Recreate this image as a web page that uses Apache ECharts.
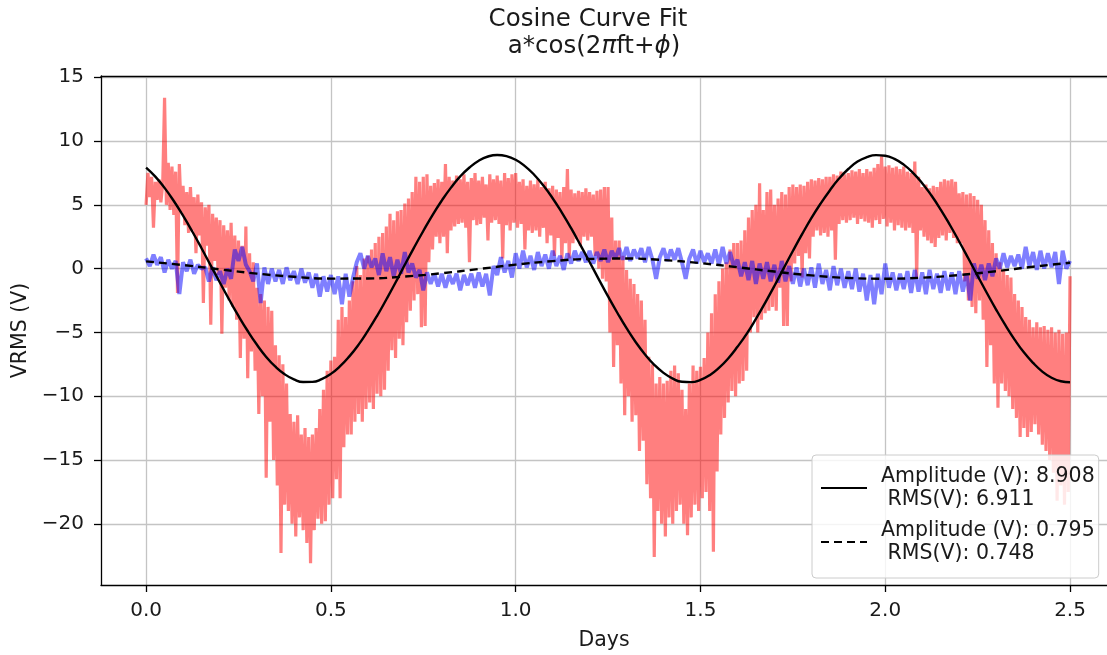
<!DOCTYPE html>
<html><head><meta charset="utf-8">
<script src="https://cdn.jsdelivr.net/npm/echarts@6/dist/echarts.min.js"></script>
<style>html,body{margin:0;padding:0;background:#fff}#c{width:1107px;height:655px}</style>
</head><body><div id="c"></div>
<script>
// ---- data ----
const titleText = 'Cosine Curve Fit';
const xLabel = 'Days';
const yLabel = 'VRMS (V)';
const xTicks = [0, 0.5, 1.0, 1.5, 2.0, 2.5];
const yTicks = [-20, -15, -10, -5, 0, 5, 10, 15];
const legendSolid = 'Amplitude (V): 8.908\n RMS(V): 6.911';
const legendDashed = 'Amplitude (V): 0.795\n RMS(V): 0.748';

// measured red signal, one sample every 0.005 day from day 0
const redStep = 0.005;
const redVals = [
 5.0, 7.5, 5.6, 7.2, 3.2, 6.8, 5.4, 7.0, 5.2, 6.6,
 13.4, 5.0, 8.3, 4.6, 8.0, 4.2, 7.6, -1.9, 8.2, 4.4,
 6.5, 3.4, 6.0, 2.8, 6.4, 3.0, 5.6, 1.2, 5.8, 2.6,
 5.2, -2.7, 4.8, 1.8, 5.0, -4.4, 4.3, 0.6, 4.0, -0.5,
 3.8, -5.1, 3.4, -1.5, 3.0, -2.5, 3.6, -3.0, 2.6, -4.0,
 2.2, -7.0, 1.8, -5.5, 3.3, -8.6, 1.2, -6.5, 0.5, -8.0,
 -1.5, -11.4, -2.0, -10.0, -2.5, -16.4, -3.0, -12.0, -3.3, -15.0,
 -6.0, -17.0, -6.8, -22.3, -7.5, -18.5, -9.0, -19.0, -11.4, -20.0,
 -12.0, -21.0, -11.5, -19.5, -13.0, -20.5, -12.5, -21.5, -13.2, -23.1,
 -13.0, -20.5, -12.5, -19.6, -11.0, -20.0, -9.5, -19.8, -8.0, -18.5,
 -7.2, -18.0, -6.9, -16.5, -4.0, -18.0, -3.0, -14.0, -3.8, -13.0,
 -2.5, -13.0, -1.0, -12.0, 0.2, -11.4, -0.5, -12.0, 0.8, -11.0,
 1.0, -10.5, 1.5, -11.0, 2.0, -9.8, 2.5, -10.0, 2.8, -9.5,
 3.3, -8.0, 4.3, -6.4, 3.8, -7.0, 4.5, -5.5, 4.6, -6.0,
 5.1, -4.2, 5.5, -3.3, 6.0, -2.5, 7.2, -2.0, 6.8, -4.6,
 7.2, -4.5, 7.4, 0.5, 6.5, 1.5, 6.7, 2.5, 7.0, 2.0,
 6.8, 2.5, 8.2, 1.2, 7.2, 3.0, 6.9, 3.3, 7.3, 3.5,
 7.0, 3.6, 7.4, 3.2, 6.8, 0.5, 7.1, 3.8, 7.5, 3.4,
 6.9, 3.5, 7.2, 4.0, 6.6, 2.2, 7.4, 3.6, 7.0, 3.8,
 7.3, 3.5, 6.9, 0.8, 7.5, 3.4, 7.1, 3.0, 7.4, 3.6,
 7.5, 3.2, 6.8, 3.5, 7.0, 1.5, 6.5, 3.0, 6.9, 2.8,
 6.6, 3.0, 7.0, 2.5, 6.4, 3.2, 6.8, 2.0, 6.3, 2.6,
 6.5, 1.0, 6.2, 2.4, 6.0, 0.6, 6.4, 2.0, 7.8, 0.8,
 6.2, 2.0, 5.9, 2.3, 6.1, 1.8, 6.0, 2.5, 6.3, 2.2,
 6.0, 2.5, 5.8, 1.0, 6.1, 0.0, 6.2, -0.8, 6.4, -1.0,
 6.4, -5.0, 4.0, -7.7, 2.2, -6.0, 2.2, -9.0, 1.0, -11.5,
 -0.1, -10.0, -0.8, -12.0, -1.2, -11.5, -2.0, -14.3, -2.5, -13.5,
 -4.0, -16.9, -6.9, -18.0, -7.5, -22.6, -9.0, -19.0, -8.5, -20.0,
 -9.0, -21.0, -8.8, -19.5, -8.0, -20.0, -7.6, -19.0, -8.2, -18.5,
 -9.5, -20.0, -11.0, -20.9, -9.0, -19.5, -7.6, -18.5, -8.0, -19.0,
 -7.7, -18.0, -7.0, -17.5, -5.0, -19.0, -3.5, -22.2, -2.0, -15.9,
 -1.0, -13.0, 0.0, -11.7, 0.5, -10.5, 1.5, -9.6, 2.0, -10.0,
 2.0, -9.0, 2.2, -8.8, 3.0, -8.0, 4.0, -5.0, 4.6, -3.8,
 5.0, -5.0, 6.7, -4.0, 4.6, -3.5, 6.0, -3.3, 6.2, -3.0,
 5.0, -3.3, 5.5, -1.5, 6.0, -4.5, 5.8, -4.5, 6.4, -1.0,
 6.6, 0.4, 6.4, 1.0, 6.6, -0.7, 6.5, 1.2, 6.8, 0.8,
 7.0, 2.5, 6.9, 3.0, 7.1, 2.6, 7.0, 2.8, 7.2, 2.5,
 7.2, 3.0, 7.4, 0.7, 7.3, 3.5, 7.6, 3.8, 7.4, 3.6,
 7.5, 3.8, 7.7, 4.0, 7.6, 3.5, 7.8, 3.9, 7.5, 3.7,
 7.8, 3.6, 7.6, 3.2, 7.9, 3.8, 8.2, 3.5, 8.8, 3.9,
 8.0, 3.3, 8.1, 3.6, 7.9, 3.0, 8.0, 3.4, 7.8, 3.2,
 8.0, 3.0, 7.6, 3.2, 7.5, 2.8, 8.4, -0.7, 7.2, 3.0,
 6.4, 2.5, 6.6, 2.2, 6.3, 2.0, 6.5, 1.7, 6.4, 2.4,
 6.8, 2.6, 7.0, 2.2, 6.9, 2.8, 7.0, 2.4, 6.8, 2.0,
 5.9, 2.0, 6.0, -1.0, 5.8, -2.5, 5.9, -3.0, 5.7, -3.5,
 5.4, -2.5, 5.0, -4.0, 3.8, -7.7, 3.0, -6.0, 2.0, -9.0,
 1.2, -10.9, 0.5, -9.0, -0.1, -9.6, -0.5, -10.0, -0.7, -11.0,
 -2.0, -11.7, -2.5, -13.2, -3.0, -12.5, -3.8, -13.2, -4.0, -12.8,
 -4.6, -12.2, -4.2, -13.0, -4.6, -13.8, -4.5, -14.3, -4.8, -15.0,
 -4.6, -16.0, -5.0, -18.2, -4.8, -17.0, -5.1, -18.5, -5.0, -17.5,
 -0.6
];

// measured blue signal, one sample every 0.01 day from day 0
const blueStep = 0.01;
const blueVals = [
 0.8, 0.2, 1.1, 0.3, 0.9, -0.3, 0.7, 0.0, 0.6, -2.0,
 0.5, -0.2, 0.7, -0.4, 0.3, 0.0, 0.1, -1.0, 0.1, -0.9,
 -0.2, -1.2, 0.0, -0.8, 1.5, 0.6, 1.7, 0.3, -0.2, -1.0,
 0.4, -2.7, 0.1, -1.2, 0.0, -1.0, -0.1, -1.2, 0.1, -0.9,
 -0.2, -1.2, 0.0, -1.1, -0.3, -1.5, -0.4, -2.2, -0.6, -1.8,
 -0.5, -2.0, -0.6, -2.8, -0.4, -2.2, -0.7, 0.5, 1.2, 0.0,
 1.0, 0.1, 0.8, -0.5, 1.2, -0.2, 0.9, -0.6, 0.7, -0.4,
 1.3, -0.3, 0.4, -0.7, -0.1, -1.7, -0.3, -1.2, -0.4, -1.4,
 -0.4, -1.5, -0.5, -1.2, -0.4, -1.7, -0.5, -1.3, -0.4, -1.5,
 -0.3, -1.4, -0.4, -2.1, 0.2, -0.5, 0.9, -0.3, 0.6, -0.7,
 1.2, 0.0, 1.4, 0.1, 1.0, -0.1, 1.3, 0.2, 1.1, 0.0,
 1.4, 0.2, 1.0, -0.1, 1.2, 0.4, 1.4, 0.6, 1.3, 0.5,
 1.4, 0.4, 1.3, 0.6, 1.5, 0.5, 1.4, 0.8, 1.6, 0.7,
 1.7, 0.6, 1.5, 0.8, 1.6, 0.5, 1.7, 0.7, -0.8, 0.9,
 1.6, 0.6, 1.5, 0.7, 1.6, 0.5, -0.8, 0.8, 1.5, 0.4,
 1.4, 0.5, 1.2, 0.4, 1.5, 0.3, 1.7, 0.4, 1.3, 0.2,
 0.7, -0.6, 0.5, -0.9, 0.6, -1.2, 0.4, -0.8, 0.5, -1.0,
 0.3, -1.1, 0.6, -1.0, 0.2, -1.2, 0.1, -1.4, 0.0, -1.3,
 0.1, -1.5, 0.4, -1.2, -0.1, -1.7, 0.2, -1.3, 0.0, -1.5,
 -0.2, -1.6, 0.0, -1.8, -0.4, -2.5, -0.5, -2.8, -0.4, -2.0,
 0.4, -1.5, -0.3, -1.7, -0.4, -1.6, -0.2, -1.9, -0.1, -1.8,
 -0.3, -2.0, -0.1, -1.6, -0.4, -1.9, -0.2, -1.7, -0.3, -2.0,
 -0.2, -1.8, -0.4, -2.5, 0.4, -0.8, 0.3, -0.9, 0.4, -0.6,
 0.8, 0.0, 1.2, 0.1, 1.0, 0.2, 1.1, 0.0, 1.7, 0.2,
 1.3, -0.1, 1.4, 0.0, 1.2, 0.1, 1.3, -1.2, 1.4, 0.0,
 0.6
];

// solid fit curve, read every 0.025 day
const fitSolidStep = 0.025;
const fitSolid = [
 7.92, 7.21, 6.33, 5.30, 4.15, 2.91, 1.60, 0.24, -1.11, -2.44,
 -3.71, -4.89, -5.97, -6.92, -7.69, -8.28, -8.68, -8.89, -8.88, -8.66,
 -8.25, -7.65, -6.88, -5.96, -4.88, -3.70, -2.42, -1.09, 0.30, 1.65,
 2.95, 4.20, 5.33, 6.35, 7.23, 7.93, 8.46, 8.79, 8.91, 8.82,
 8.53, 8.04, 7.36, 6.52, 5.52, 4.39, 3.17, 1.86, 0.52, -0.84,
 -2.18, -3.46, -4.67, -5.77, -6.73, -7.54, -8.17, -8.62, -8.87, -8.90,
 -8.72, -8.35, -7.78, -7.04, -6.13, -5.11, -3.94, -2.68, -1.36, 0.02,
 1.38, 2.70, 3.96, 5.10, 6.13, 7.06, 7.81, 8.39, 8.74, 8.90,
 8.85, 8.60, 8.15, 7.51, 6.70, 5.73, 4.63, 3.42, 2.13, 0.79,
 -0.57, -1.91, -3.21, -4.43, -5.56, -6.56, -7.39, -8.07, -8.55, -8.83,
 -8.91
];

// dashed fit curve, read every 0.1 day
const fitDashedStep = 0.1;
const fitDashed = [
 0.57, 0.28, -0.06, -0.39, -0.64, -0.78, -0.77, -0.62, -0.36, -0.03,
 0.31, 0.59, 0.76, 0.79, 0.67, 0.43, 0.11, -0.23, -0.53, -0.73,
 -0.79, -0.71, -0.50, -0.20, 0.15, 0.46
];

// ---- build chart ----
const toPairs = (vals, step) => vals.map((v, i) => [+(i * step).toFixed(4), v]);
const FONT = 'DejaVu Sans';
const TXT = '#1a1a1a';
const X_MIN = -0.122, X_MAX = 2.6, Y_MIN = -24.8, Y_MAX = 15.1;

const chart = echarts.init(document.getElementById('c'), null, {renderer: 'canvas'});
chart.setOption({
  animation: false,
  backgroundColor: '#fff',
  textStyle: {fontFamily: FONT, color: TXT},
  graphic: [
    {type: 'text', x: 588, y: 20, style: {text: titleText, font: '24.5px "DejaVu Sans"', fill: TXT, textAlign: 'center', textVerticalAlign: 'middle'}},
    {type: 'text', x: 594, y: 47, style: {text: 'a*cos(2{i|π}ft+{i|ϕ})', font: '24.5px "DejaVu Sans"', fill: TXT, textAlign: 'center', textVerticalAlign: 'middle',
      rich: {i: {fontStyle: 'italic', fontSize: 24.5, fontFamily: FONT, fill: TXT}}}}
  ],
  grid: {left: 101, top: 76, right: 0, bottom: 70, show: false, containLabel: false, outerBoundsMode: 'none'},
  legend: {
    orient: 'vertical', left: 812, top: 455,
    data: [legendSolid, legendDashed],
    itemWidth: 46, itemHeight: 14, itemGap: 8,
    padding: [10, 4, 13, 8],
    backgroundColor: 'rgba(255,255,255,0.82)', borderColor: '#cccccc', borderWidth: 1, borderRadius: 4,
    itemStyle: {opacity: 0},
    textStyle: {fontFamily: FONT, fontSize: 20.5, color: TXT, lineHeight: 23, padding: [0, 0, 0, 9]},
    selectedMode: false
  },
  xAxis: [{
    type: 'value', min: X_MIN, max: X_MAX,
    name: xLabel, nameLocation: 'middle', nameGap: 45,
    nameTextStyle: {fontFamily: FONT, fontSize: 20.5, color: TXT},
    axisLine: {show: true, onZero: false, lineStyle: {color: '#000', width: 1.3}},
    axisTick: {show: true, length: 7, inside: false, customValues: xTicks, lineStyle: {color: '#000', width: 1.3}},
    axisLabel: {customValues: xTicks, fontFamily: FONT, fontSize: 20, color: TXT, margin: 16, formatter: v => v.toFixed(1)},
    splitLine: {show: true, lineStyle: {color: '#c4c4c4', width: 1.3}}
  }, {
    type: 'value', min: X_MIN, max: X_MAX, position: 'top',
    axisLine: {show: true, onZero: false, lineStyle: {color: '#000', width: 1.3}},
    axisTick: {show: false}, axisLabel: {show: false}, splitLine: {show: false}
  }],
  yAxis: {
    type: 'value', min: Y_MIN, max: Y_MAX,
    name: yLabel, nameLocation: 'middle', nameGap: 67, nameRotate: 90,
    nameTextStyle: {fontFamily: FONT, fontSize: 20.5, color: TXT},
    axisLine: {show: true, onZero: false, lineStyle: {color: '#000', width: 1.3}},
    axisTick: {show: true, length: 7, inside: false, customValues: yTicks, lineStyle: {color: '#000', width: 1.3}},
    axisLabel: {customValues: yTicks, fontFamily: FONT, fontSize: 20, color: TXT, margin: 17, formatter: v => String(v).replace('-', '\u2212')},
    splitLine: {show: true, lineStyle: {color: '#c4c4c4', width: 1.3}}
  },
  series: [
    {name: 'red', type: 'line', data: toPairs(redVals, redStep), showSymbol: false, symbol: 'none', sampling: null,
      lineStyle: {color: 'rgba(255,0,0,0.5)', width: 3.2}, itemStyle: {color: 'rgba(255,0,0,0.5)'}, z: 1, silent: true},
    {name: 'blue', type: 'line', data: toPairs(blueVals, blueStep), showSymbol: false, symbol: 'none',
      lineStyle: {color: 'rgba(0,0,255,0.5)', width: 4}, itemStyle: {color: 'rgba(0,0,255,0.5)'}, z: 2, silent: true},
    {name: legendSolid, type: 'line', data: toPairs(fitSolid, fitSolidStep), smooth: true, showSymbol: false, symbol: 'none',
      lineStyle: {color: '#000', width: 2.4}, itemStyle: {color: '#000'}, z: 3},
    {name: legendDashed, type: 'line', data: toPairs(fitDashed, fitDashedStep), smooth: true, showSymbol: false, symbol: 'none',
      lineStyle: {color: '#000', width: 2.4, type: [8, 5]}, itemStyle: {color: '#000'}, z: 4}
  ]
});
</script>
</body></html>
